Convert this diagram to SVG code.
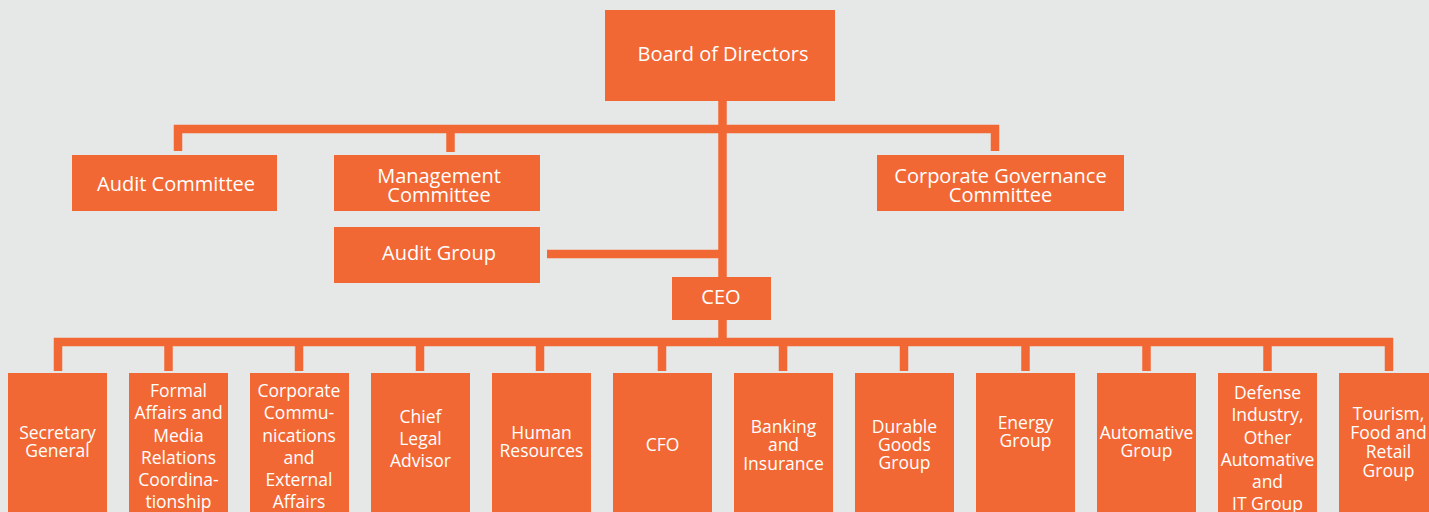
<svg xmlns="http://www.w3.org/2000/svg" width="1429" height="512" viewBox="0 0 1429 512">
<style>
.bg{fill:#e6e8e7}
.box{fill:#f26834}
.t{font-family:"Open Sans","Liberation Sans",sans-serif;fill:#ffffff;text-anchor:middle}
.big{font-size:20px}
.sm{font-size:17.5px}
.c{fill:none;stroke:#f26834;stroke-width:8.5}
</style>
<rect class="bg" x="0" y="0" width="1429" height="512"/>
<g id="connectors">
<path class="c" d="M722.5 101 V277"/>
<path class="c" d="M178 151 V129 H995 V151"/>
<path class="c" d="M450.5 129 V152"/>
<path class="c" d="M547 254 H722.5"/>
<path class="c" d="M722.5 320 V342"/>
<path class="c" d="M58 371 V342 H1389 V371"/>
<path class="c" d="M168.5 342 V371 M299 342 V371 M420 342 V371 M540 342 V371 M662 342 V371 M783 342 V371 M904 342 V371 M1025.5 342 V371 M1146.5 342 V371 M1267.5 342 V371"/>
</g>
<g id="board"><rect class="box" x="605" y="10" width="230" height="91"/><text class="t big" x="723" y="61">Board of Directors</text></g>
<g id="audit-committee"><rect class="box" x="72" y="155" width="205" height="56"/><text class="t big" x="176" y="191">Audit Committee</text></g>
<g id="management-committee"><rect class="box" x="334" y="155" width="206" height="56"/><text class="t big" x="439" y="183">Management</text><text class="t big" x="439" y="201.5">Committee</text></g>
<g id="corporate-governance"><rect class="box" x="877" y="155" width="247" height="56"/><text class="t big" x="1000.5" y="183">Corporate Governance</text><text class="t big" x="1000.5" y="201.5">Committee</text></g>
<g id="audit-group"><rect class="box" x="334" y="227" width="206" height="56"/><text class="t big" x="439" y="259.5">Audit Group</text></g>
<g id="ceo"><rect class="box" x="672" y="277" width="99" height="43"/><text class="t big" x="721" y="304">CEO</text></g>
<g id="secretary-general"><rect class="box" x="8" y="373" width="99" height="150"/><text class="t sm" x="57.5" y="439.3">Secretary</text><text class="t sm" x="57.5" y="457.3">General</text></g>
<g id="formal-affairs"><rect class="box" x="129" y="373" width="99" height="150"/><text class="t sm" x="178.5" y="397">Formal</text><text class="t sm" x="178.5" y="419">Affairs and</text><text class="t sm" x="178.5" y="441.5">Media</text><text class="t sm" x="178.5" y="463.5">Relations</text><text class="t sm" x="178.5" y="486">Coordina-</text><text class="t sm" x="178.5" y="508">tionship</text></g>
<g id="corporate-communications"><rect class="box" x="250" y="373" width="99" height="150"/><text class="t sm" x="299" y="397">Corporate</text><text class="t sm" x="299" y="419">Commu-</text><text class="t sm" x="299" y="441.5">nications</text><text class="t sm" x="299" y="463.5">and</text><text class="t sm" x="299" y="486">External</text><text class="t sm" x="299" y="508">Affairs</text></g>
<g id="chief-legal-advisor"><rect class="box" x="371" y="373" width="99" height="150"/><text class="t sm" x="420.5" y="423.3">Chief</text><text class="t sm" x="420.5" y="445.3">Legal</text><text class="t sm" x="420.5" y="466.7">Advisor</text></g>
<g id="human-resources"><rect class="box" x="492" y="373" width="99" height="150"/><text class="t sm" x="541.5" y="439.3">Human</text><text class="t sm" x="541.5" y="456.7">Resources</text></g>
<g id="cfo"><rect class="box" x="613" y="373" width="99" height="150"/><text class="t sm" x="662.5" y="450.7">CFO</text></g>
<g id="banking-insurance"><rect class="box" x="734" y="373" width="99" height="150"/><text class="t sm" x="783.5" y="433.3">Banking</text><text class="t sm" x="783.5" y="451">and</text><text class="t sm" x="783.5" y="470">Insurance</text></g>
<g id="durable-goods"><rect class="box" x="855" y="373" width="99" height="150"/><text class="t sm" x="904.5" y="433">Durable</text><text class="t sm" x="904.5" y="451">Goods</text><text class="t sm" x="904.5" y="469.3">Group</text></g>
<g id="energy-group"><rect class="box" x="976" y="373" width="99" height="150"/><text class="t sm" x="1025.5" y="429.3">Energy</text><text class="t sm" x="1025.5" y="447.3">Group</text></g>
<g id="automative-group"><rect class="box" x="1097" y="373" width="99" height="150"/><text class="t sm" x="1146.5" y="439.3">Automative</text><text class="t sm" x="1146.5" y="456.7">Group</text></g>
<g id="defense-industry"><rect class="box" x="1218" y="373" width="99" height="150"/><text class="t sm" x="1267.5" y="399">Defense</text><text class="t sm" x="1267.5" y="420.7">Industry,</text><text class="t sm" x="1267.5" y="444">Other</text><text class="t sm" x="1267.5" y="466">Automative</text><text class="t sm" x="1267.5" y="488.3">and</text><text class="t sm" x="1267.5" y="510">IT Group</text></g>
<g id="tourism-food-retail"><rect class="box" x="1339" y="373" width="99" height="150"/><text class="t sm" x="1388.5" y="420">Tourism,</text><text class="t sm" x="1388.5" y="439.3">Food and</text><text class="t sm" x="1388.5" y="458.3">Retail</text><text class="t sm" x="1388.5" y="476.7">Group</text></g>
</svg>
